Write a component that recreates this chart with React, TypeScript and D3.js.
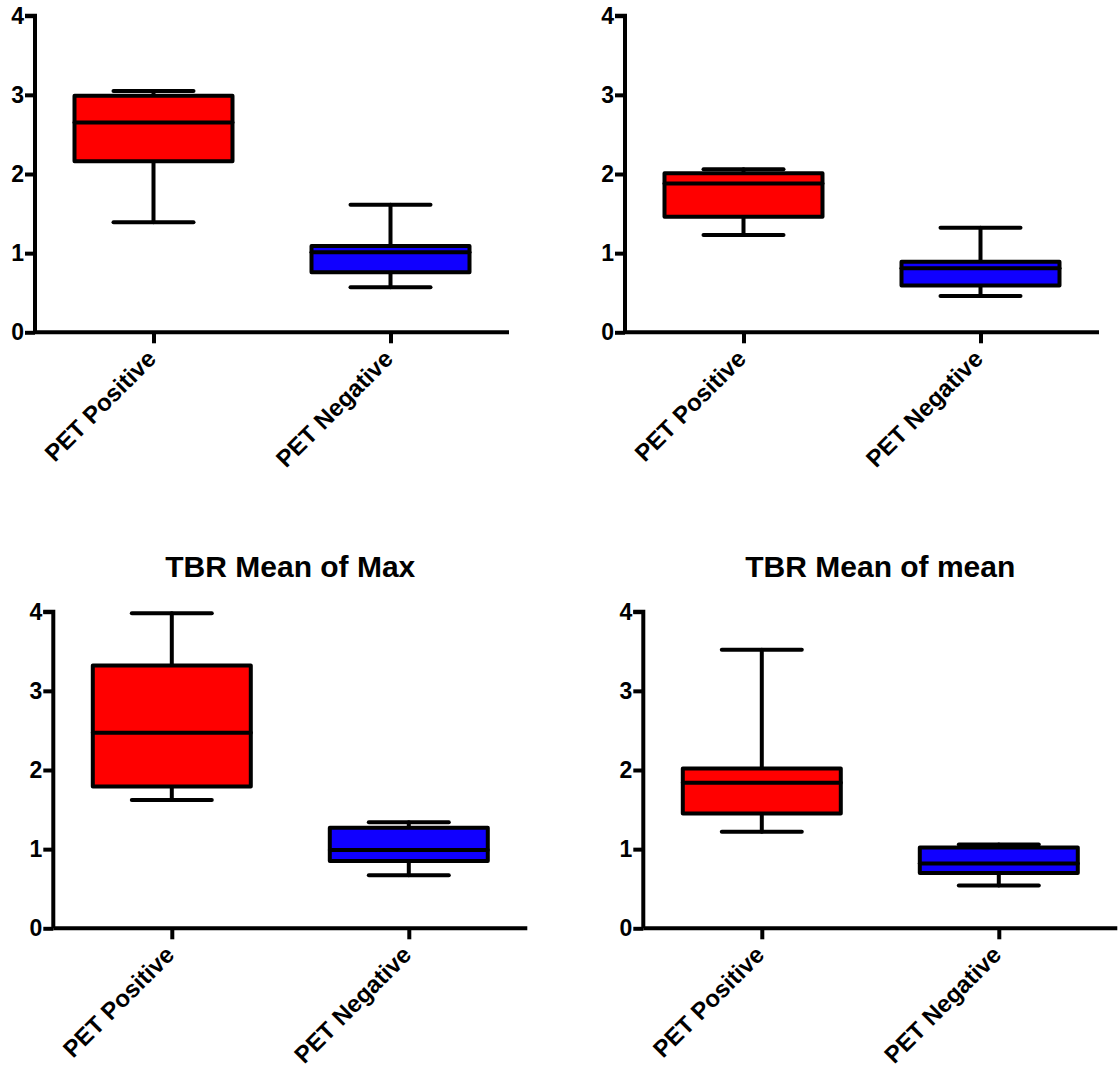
import React, { useEffect, useRef } from 'react';
import * as d3 from 'd3';

// groups on the x axis
const categories = ['PET Positive', 'PET Negative'];
const yTicks = [0, 1, 2, 3, 4];

// panel titles (top row has none)
const titles = ['', '', 'TBR Mean of Max', 'TBR Mean of mean'];

// box stats per panel: [min, q1, median, q3, max] for positive / negative
const positiveStats = [
  [1.39, 2.16, 2.65, 2.99, 3.05],
  [1.23, 1.46, 1.88, 2.01, 2.06],
  [1.62, 1.79, 2.47, 3.32, 3.98],
  [1.22, 1.45, 1.84, 2.02, 3.52],
];
const negativeStats = [
  [0.57, 0.76, 1.01, 1.09, 1.61],
  [0.46, 0.59, 0.81, 0.89, 1.32],
  [0.67, 0.85, 0.99, 1.27, 1.34],
  [0.54, 0.70, 0.82, 1.02, 1.06],
];

const boxColors = ['#ff0000', '#1000ff'];

const App = () => {
  const ref = useRef<SVGSVGElement>(null);

  useEffect(() => {
    draw(ref.current);
  }, []);

  return (
    <svg
      ref={ref}
      width={1118}
      height={1068}
      style={{ position: 'absolute', left: 0, top: 0, background: '#fff' }}
    />
  );
};

const draw = (node: SVGSVGElement | null) => {
  if (!node) return;
  const svg = d3.select(node);
  svg.selectAll('*').remove();

  const font = '"Liberation Sans", Arial, sans-serif';
  const sw = 4;
  const width = 474;
  const height = 316.6;

  // origin (axis corner) of each panel
  const origins = [
    { x: 35, y: 332.3 },
    { x: 625, y: 332.3 },
    { x: 53.3, y: 928.3 },
    { x: 643.3, y: 928.3 },
  ];

  origins.forEach((o, p) => {
    const g = svg.append('g').attr('transform', `translate(${o.x},${o.y - height})`);

    const x = d3.scalePoint().domain(categories).range([0, width]).padding(0.5);
    const y = d3.scaleLinear().domain([0, 4]).range([height, 0]);
    const boxW = 158;
    const capW = 80;

    // title
    if (titles[p]) {
      g.append('text')
        .attr('x', width / 2)
        .attr('y', -35)
        .attr('text-anchor', 'middle')
        .style('font-family', font)
        .style('font-weight', 'bold')
        .style('font-size', '30px')
        .text(titles[p]);
    }

    // y axis
    const yAxis = g.append('g').call(d3.axisLeft(y).tickValues(yTicks).tickSize(10).tickPadding(1).tickFormat(d3.format('d')));
    yAxis.select('.domain').attr('d', `M0,${height}V${y(4)}H-10`).attr('stroke-width', sw).attr('stroke', '#000');
    yAxis.selectAll('.tick line').attr('stroke-width', sw).attr('stroke', '#000');
    yAxis.selectAll('.tick text')
      .style('font-family', font)
      .style('font-weight', 'bold')
      .style('font-size', '23px')
      .attr('fill', '#000');

    // x axis
    const xAxis = g.append('g')
      .attr('transform', `translate(0,${height})`)
      .call(d3.axisBottom(x).tickSize(11).tickFormat(() => ''));
    xAxis.select('.domain').attr('d', `M0,0H${width}`).attr('stroke-width', sw).attr('stroke', '#000');
    xAxis.selectAll('.tick line').attr('stroke-width', sw).attr('stroke', '#000');

    // rotated category labels
    categories.forEach((c) => {
      g.append('text')
        .attr('transform', `translate(${(x(c) as number) + 4},${height + 28}) rotate(-45)`)
        .attr('text-anchor', 'end')
        .style('font-family', font)
        .style('font-weight', 'bold')
        .style('font-size', '24px')
        .text(c);
    });

    // boxes
    const stats = [positiveStats[p], negativeStats[p]];
    stats.forEach((s, i) => {
      const cx = x(categories[i]) as number;
      const [mn, q1, md, q3, mx] = s;
      const line = (x1: number, y1: number, x2: number, y2: number) =>
        g.append('line')
          .attr('x1', x1).attr('y1', y1).attr('x2', x2).attr('y2', y2)
          .attr('stroke', '#000')
          .attr('stroke-width', sw)
          .attr('stroke-linecap', 'round');

      line(cx, y(mn), cx, y(q1));
      line(cx, y(q3), cx, y(mx));
      line(cx - capW / 2, y(mn), cx + capW / 2, y(mn));
      line(cx - capW / 2, y(mx), cx + capW / 2, y(mx));

      g.append('rect')
        .attr('x', cx - boxW / 2)
        .attr('y', y(q3))
        .attr('width', boxW)
        .attr('height', y(q1) - y(q3))
        .attr('fill', boxColors[i])
        .attr('stroke', '#000')
        .attr('stroke-width', sw)
        .attr('stroke-linejoin', 'round');

      line(cx - boxW / 2, y(md), cx + boxW / 2, y(md));
    });
  });
};

export default App;
